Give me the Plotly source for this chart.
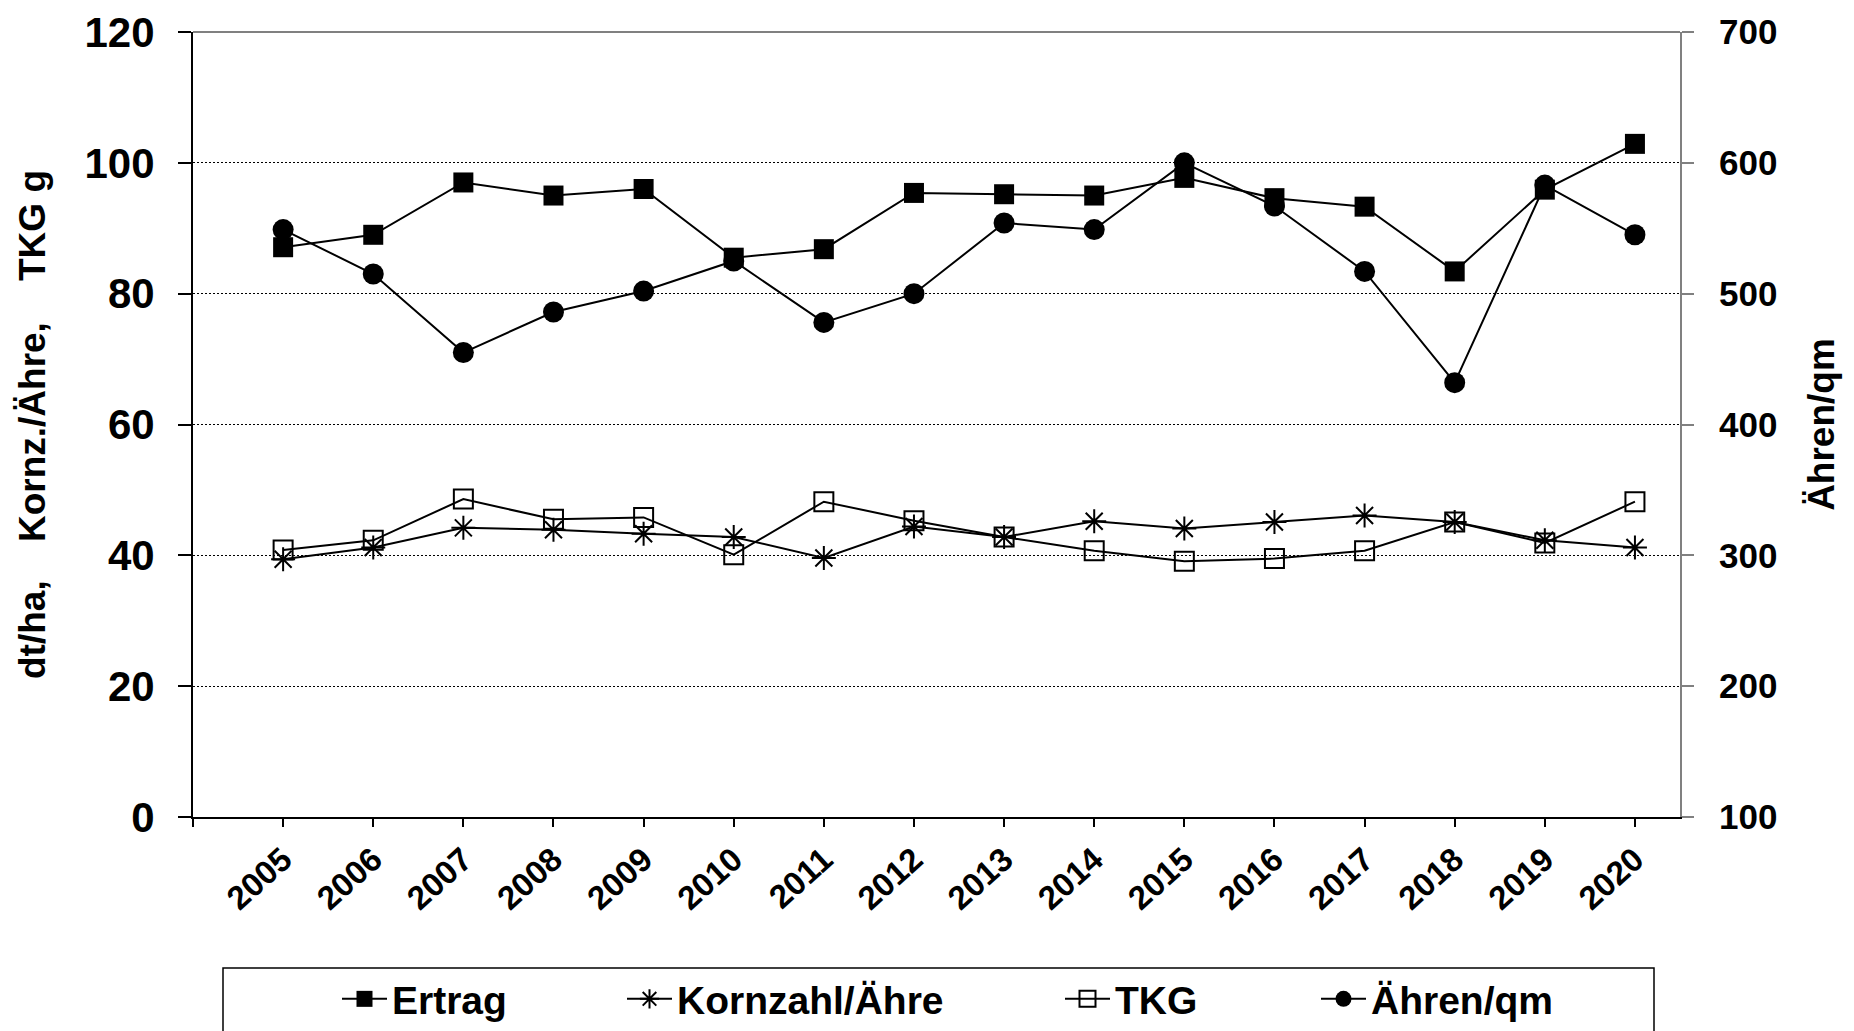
import plotly.graph_objects as go

# ---------------- data ----------------
years = list(range(2005, 2021))
ertrag = [87.1, 89.0, 97.0, 95.0, 96.0, 85.5, 86.8, 95.4, 95.2, 95.0, 97.7, 94.6, 93.3, 83.4, 95.9, 102.9]
kornzahl = [39.4, 41.2, 44.2, 43.9, 43.3, 42.8, 39.6, 44.4, 42.8, 45.2, 44.1, 45.1, 46.1, 45.1, 42.3, 41.2]
tkg = [40.8, 42.3, 48.6, 45.5, 45.8, 40.1, 48.2, 45.3, 42.8, 40.7, 39.1, 39.5, 40.7, 45.1, 41.9, 48.2]
aehren_qm = [549, 515, 455, 486, 502, 525, 478, 500, 554, 549, 600, 567, 517, 432, 583, 545]

series_names = ["Ertrag", "Kornzahl/Ähre", "TKG", "Ähren/qm"]
left_ticks = [0, 20, 40, 60, 80, 100, 120]
right_ticks = [100, 200, 300, 400, 500, 600, 700]
left_title = "dt/ha,\u00a0\u00a0\u00a0\u2009Kornz./Ähre,\u00a0\u00a0\u00a0 TKG g\u00a0\u00a0\u00a0\u00a0"
right_title = "Ähren/qm"

# ---------------- style ----------------
FONT = "Liberation Sans, Arial, Helvetica, sans-serif"
W, H = 1854, 1031
L, R, T, B = 193, 1680, 32, 817  # plot area in pixels


def px_x(p):
    return (p - L) / (R - L)


def px_y(p):
    return (B - p) / (B - T)


fig = go.Figure()
fig.add_trace(go.Scatter(
    x=years, y=ertrag, name=series_names[0], mode="lines+markers",
    line=dict(color="black", width=2),
    marker=dict(symbol="square", size=20, color="black"),
    legend="legend"))
fig.add_trace(go.Scatter(
    x=years, y=kornzahl, name=series_names[1], mode="lines+markers",
    line=dict(color="black", width=2),
    marker=dict(symbol="asterisk-open", size=20, color="black",
                line=dict(color="black", width=2)),
    legend="legend2"))
fig.add_trace(go.Scatter(
    x=years, y=tkg, name=series_names[2], mode="lines+markers",
    line=dict(color="black", width=2),
    marker=dict(symbol="square-open", size=19, color="black",
                line=dict(color="black", width=2)),
    legend="legend3"))
fig.add_trace(go.Scatter(
    x=years, y=aehren_qm, name=series_names[3], mode="lines+markers",
    yaxis="y2",
    line=dict(color="black", width=2),
    marker=dict(symbol="circle", size=21, color="black"),
    legend="legend4"))

legend_common = dict(
    orientation="h", xanchor="left", yanchor="middle",
    font=dict(family=FONT, size=39, color="black", weight="bold"),
    bgcolor="rgba(0,0,0,0)", borderwidth=0, itemwidth=45,
)
legend_y = px_y(999)

fig.update_layout(
    width=W, height=H,
    template="none",
    paper_bgcolor="white", plot_bgcolor="white",
    margin=dict(l=L, r=W - R, t=T, b=H - B, autoexpand=False),
    font=dict(family=FONT, color="black"),
    showlegend=True,
    legend=dict(x=px_x(337), y=legend_y, **legend_common),
    legend2=dict(x=px_x(622), y=legend_y, **legend_common),
    legend3=dict(x=px_x(1060), y=legend_y, **legend_common),
    legend4=dict(x=px_x(1316), y=legend_y, **legend_common),
    xaxis=dict(
        range=[years[0] - 1, years[-1] + 0.5],
        tickvals=[years[0] - 1] + years,
        ticktext=[""] + [str(y) for y in years],
        tickangle=-42,
        ticks="outside", ticklen=8, tickwidth=2, tickcolor="black",
        showline=True, linecolor="black", linewidth=2,
        showgrid=False, zeroline=False,
        tickfont=dict(family=FONT, size=33, color="black", weight="bold"),
    ),
    yaxis=dict(
        range=[left_ticks[0], left_ticks[-1]],
        tickvals=left_ticks,
        ticks="outside", ticklen=13, tickwidth=2, tickcolor="black",
        showline=True, linecolor="black", linewidth=2,
        showgrid=True, gridcolor="black", gridwidth=1, griddash="2px,2px",
        zeroline=False,
        tickfont=dict(family=FONT, size=42, color="black", weight="bold"),
        ticklabelstandoff=15,
        title=dict(text=left_title, standoff=28,
                   font=dict(family=FONT, size=37, color="black", weight="bold")),
    ),
    yaxis2=dict(
        overlaying="y", side="right",
        range=[right_ticks[0], right_ticks[-1]],
        tickvals=right_ticks,
        ticks="outside", ticklen=12, tickwidth=2, tickcolor="#808080",
        showline=True, linecolor="#808080", linewidth=2,
        showgrid=False, zeroline=False,
        tickfont=dict(family=FONT, size=35, color="black", weight="bold"),
        ticklabelstandoff=18,
        title=dict(text=right_title, standoff=32,
                   font=dict(family=FONT, size=37, color="black", weight="bold")),
    ),
    shapes=[
        dict(type="line", xref="paper", yref="paper", x0=0, x1=1, y0=1, y1=1,
             line=dict(color="#808080", width=2)),
        dict(type="rect", xref="paper", yref="paper",
             x0=px_x(223), x1=px_x(1654), y0=px_y(968), y1=px_y(1060),
             line=dict(color="black", width=1.5), fillcolor="rgba(0,0,0,0)"),
    ],
)

fig.write_html("out.html",
               config={"displayModeBar": False},
               post_script="document.body.style.margin='0';document.body.style.overflow='hidden';")
